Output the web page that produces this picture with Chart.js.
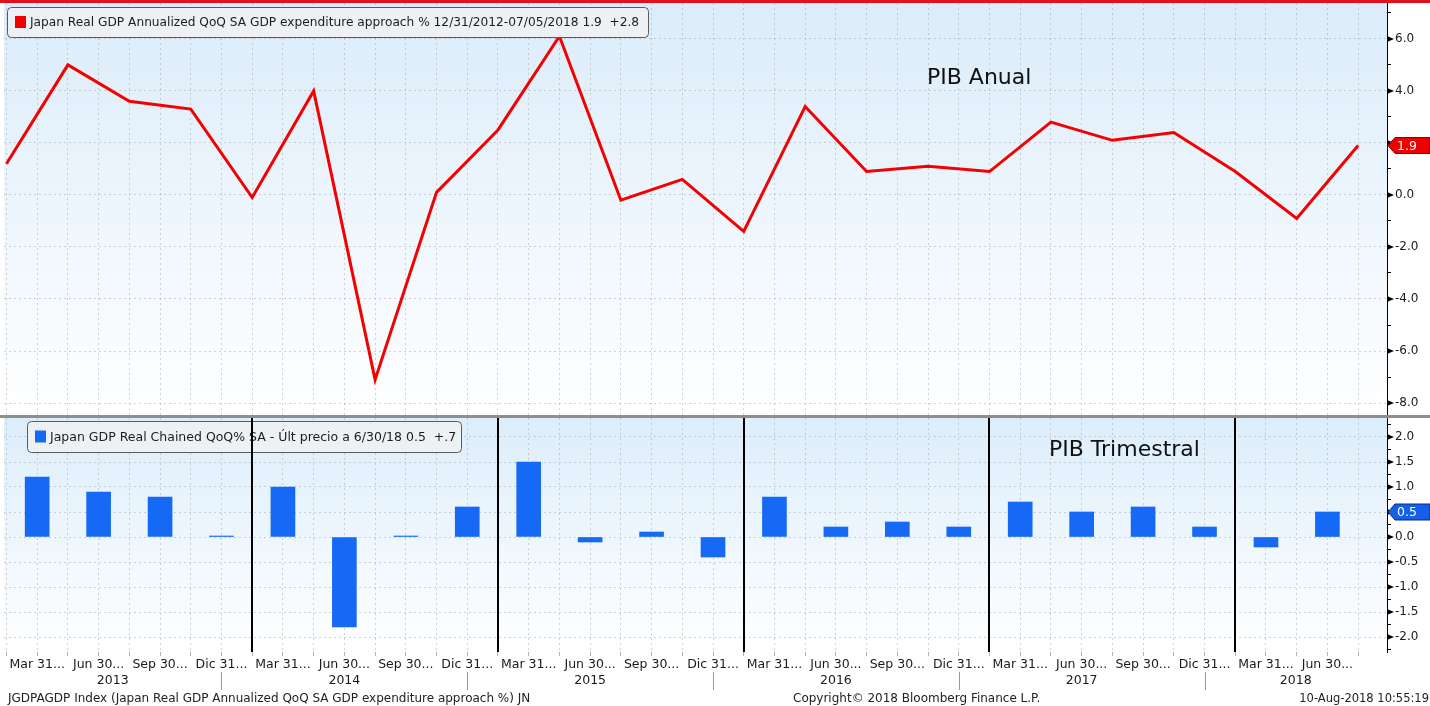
<!DOCTYPE html>
<html>
<head>
<meta charset="utf-8">
<script src="https://cdn.jsdelivr.net/npm/chart.js@4.4.1/dist/chart.umd.min.js"></script>
<style>
  body { margin: 0; width: 1430px; height: 706px; overflow: hidden; position: relative; background: #fff; font-family: "DejaVu Sans", sans-serif; }
  #wrapTop { position: absolute; left: 0; top: 0; }
  #wrapBot { position: absolute; left: 0; top: 416px; }
  #redBar { position: absolute; left: 0; top: 0; width: 1430px; height: 3px; background: #e3101c; }
  #sep { position: absolute; left: 0; top: 415px; width: 1430px; height: 3px; background: #8e8e8e; }
  .foot { position: absolute; top: 691px; font-size: 12px; color: #222; white-space: nowrap; line-height: 14px; }
</style>
</head>
<body>
<div id="wrapTop"><canvas id="topChart" width="1430" height="416"></canvas></div>
<div id="wrapBot"><canvas id="botChart" width="1430" height="276"></canvas></div>
<div id="redBar"></div>
<div id="sep"></div>
<div class="foot" style="left:8px">JGDPAGDP Index (Japan Real GDP Annualized QoQ SA GDP expenditure approach %) JN</div>
<div class="foot" style="left:793px">Copyright© 2018 Bloomberg Finance L.P.</div>
<div class="foot" style="right:1px;font-size:11.5px">10-Aug-2018 10:55:19</div>
<script>
// quarters shown on the axis (bars sit in the middle of each quarter)
const quarterLabels = [
  'Mar 31...', 'Jun 30...', 'Sep 30...', 'Dic 31...',
  'Mar 31...', 'Jun 30...', 'Sep 30...', 'Dic 31...',
  'Mar 31...', 'Jun 30...', 'Sep 30...', 'Dic 31...',
  'Mar 31...', 'Jun 30...', 'Sep 30...', 'Dic 31...',
  'Mar 31...', 'Jun 30...', 'Sep 30...', 'Dic 31...',
  'Mar 31...', 'Jun 30...'
];
const yearLabels = ['2013', '2014', '2015', '2016', '2017', '2018'];

// annualized QoQ, quarter ends Dec 2012 .. Jun 2018
const annualizedGdp = [1.2, 5.0, 3.6, 3.3, -0.1, 4.0, -7.1, 0.1, 2.5, 6.1, -0.2, 0.6,
  -1.4, 3.4, 0.9, 1.1, 0.9, 2.8, 2.1, 2.4, 0.9, -0.9, 1.9];
// plain QoQ %, Mar 2013 .. Jun 2018
const quarterlyGdp = [1.2, 0.9, 0.8, 0.02, 1.0, -1.8, 0.02, 0.6, 1.5, -0.1, 0.1, -0.4,
  0.8, 0.2, 0.3, 0.2, 0.7, 0.5, 0.6, 0.2, -0.2, 0.5];

const annualTickLabels = [-8, -6, -4, -2, 0, 2, 4, 6];
const quarterlyTickLabels = [-2, -1.5, -1, -0.5, 0, 0.5, 1, 1.5, 2];

const topLegend = 'Japan Real GDP Annualized QoQ SA GDP expenditure approach % 12/31/2012-07/05/2018 1.9  +2.8';
const botLegend = 'Japan GDP Real Chained QoQ% SA - Últ precio a 6/30/18 0.5  +.7';

Chart.defaults.font.family = '"DejaVu Sans", sans-serif';
Chart.defaults.font.size = 12;
Chart.defaults.color = '#1a1a1a';

const gridColor = 'rgba(150,150,150,0.42)';
const X_MIN = -0.04, X_MAX = 22.47;

function halfSteps(scale) {
  const t = [];
  for (let i = 0; i < annualizedGdp.length; i++) {
    t.push({ value: i });
    if (i < quarterlyGdp.length) t.push({ value: i + 0.5 });
  }
  scale.ticks = t;
}

function fitRight(s) {
  s.width = 43;
  s.paddingTop = 0;
  s.paddingBottom = 0;
}

const background = {
  id: 'background',
  beforeDraw(chart, args, opts) {
    const { ctx, chartArea: a } = chart;
    const g = ctx.createLinearGradient(0, a.top, 0, a.bottom);
    g.addColorStop(0, opts.top);
    g.addColorStop(1, '#ffffff');
    ctx.save();
    ctx.fillStyle = g;
    ctx.fillRect(a.left, a.top, a.right - a.left, a.bottom - a.top);
    ctx.restore();
  }
};

// arrow heads on major ticks + last value tag
const rightAxis = {
  id: 'rightAxis',
  afterDraw(chart, args, opts) {
    const { ctx } = chart;
    const y = chart.scales.y;
    const x0 = chart.chartArea.right;
    ctx.save();
    ctx.fillStyle = '#000';
    y.ticks.forEach(t => {
      if (!opts.major.includes(t.value)) return;
      const py = y.getPixelForValue(t.value);
      ctx.beginPath();
      ctx.moveTo(x0, py - 3);
      ctx.lineTo(x0 + 7, py);
      ctx.lineTo(x0, py + 3);
      ctx.fill();
    });
    const data = chart.data.datasets[0].data;
    const last = data[data.length - 1].y;
    const py = y.getPixelForValue(last);
    ctx.beginPath();
    ctx.moveTo(x0 + 1, py);
    ctx.lineTo(x0 + 8, py - 8);
    ctx.lineTo(1430, py - 8);
    ctx.lineTo(1430, py + 8);
    ctx.lineTo(x0 + 8, py + 8);
    ctx.closePath();
    ctx.fillStyle = opts.tag;
    ctx.fill();
    ctx.strokeStyle = opts.tagBorder;
    ctx.lineWidth = 1;
    ctx.stroke();
    ctx.fillStyle = '#fff';
    ctx.font = '12.5px "DejaVu Sans"';
    ctx.textBaseline = 'middle';
    ctx.fillText(last.toFixed(1), x0 + 10, py + 1);
    ctx.restore();
  }
};

const boxes = {
  id: 'boxes',
  afterDatasetsDraw(chart, args, opts) {
    const { ctx } = chart;
    ctx.save();
    // legend box
    const b = opts.box;
    ctx.beginPath();
    ctx.roundRect(b.x + 0.5, b.y + 0.5, b.w, b.h, 4);
    ctx.fillStyle = 'rgba(238,240,243,0.96)';
    ctx.fill();
    ctx.strokeStyle = '#5a5a5a';
    ctx.lineWidth = 1;
    ctx.stroke();
    ctx.fillStyle = opts.swatch;
    ctx.fillRect(b.x + 8, b.y + b.h / 2 - 6, 11, 12);
    ctx.fillStyle = '#1c1c1c';
    ctx.font = opts.fontSize + 'px "DejaVu Sans"';
    ctx.textBaseline = 'middle';
    ctx.fillText(opts.text, b.x + 23, b.y + b.h / 2 + 1);
    // panel title
    ctx.font = '22px "DejaVu Sans"';
    ctx.fillStyle = '#111';
    ctx.fillText(opts.title.text, opts.title.x, opts.title.y);
    ctx.restore();
  }
};

const yearMarks = {
  id: 'yearMarks',
  afterDraw(chart) {
    const { ctx, chartArea: a } = chart;
    const x = chart.scales.x;
    const seps = [];
    ctx.save();
    quarterLabels.forEach((q, i) => {
      if (!q.startsWith('Dic')) return;
      // heavy year boundary inside the panel
      const px = Math.round(x.getPixelForValue(i + 1));
      ctx.fillStyle = '#000';
      ctx.fillRect(px - 1, a.top, 2, a.bottom - a.top);
      seps.push(x.getPixelForValue(i + 0.5));
    });
    ctx.strokeStyle = '#9a9a9a';
    ctx.lineWidth = 1;
    seps.forEach(px => {
      ctx.beginPath();
      ctx.moveTo(Math.round(px) + 0.5, a.bottom + 20);
      ctx.lineTo(Math.round(px) + 0.5, a.bottom + 38);
      ctx.stroke();
    });
    const edges = [a.left, ...seps, a.right];
    ctx.fillStyle = '#1a1a1a';
    ctx.font = '12.5px "DejaVu Sans"';
    ctx.textAlign = 'center';
    ctx.textBaseline = 'middle';
    yearLabels.forEach((yr, k) => {
      ctx.fillText(yr, (edges[k] + edges[k + 1]) / 2, a.bottom + 29);
    });
    ctx.restore();
  }
};

new Chart(document.getElementById('topChart'), {
  type: 'line',
  data: {
    datasets: [{
      data: annualizedGdp.map((v, i) => ({ x: i, y: v })),
      borderColor: '#f50000',
      borderWidth: 3,
      pointRadius: 0,
      tension: 0,
      fill: false
    }]
  },
  options: {
    responsive: false,
    animation: false,
    layout: { padding: { left: 4, top: 3, right: 0, bottom: 1 } },
    plugins: {
      legend: { display: false },
      tooltip: { enabled: false },
      background: { top: '#dbecfa' },
      rightAxis: { major: annualTickLabels, tag: '#ee0000', tagBorder: '#8a0000' },
      boxes: {
        box: { x: 7, y: 7, w: 641, h: 30 },
        swatch: '#f00000',
        text: topLegend,
        fontSize: 12.2,
        title: { text: 'PIB Anual', x: 927, y: 78 }
      }
    },
    scales: {
      x: {
        type: 'linear', min: X_MIN, max: X_MAX,
        afterBuildTicks: halfSteps,
        ticks: { display: false },
        grid: { color: gridColor, drawTicks: false },
        border: { display: false, dash: [2, 3] },
        afterFit(s) { s.height = 0; }
      },
      y: {
        position: 'right', min: -8.46, max: 7.38,
        ticks: {
          stepSize: 1, includeBounds: false, padding: 4, autoSkip: false,
          callback: v => annualTickLabels.includes(v) ? v.toFixed(1) : ''
        },
        grid: {
          color: c => annualTickLabels.includes(c.tick.value) ? gridColor : 'rgba(0,0,0,0)',
          tickColor: '#000', tickLength: 4
        },
        border: { color: '#000', dash: [2, 3] },
        afterFit: fitRight
      }
    }
  },
  plugins: [background, boxes, rightAxis]
});

new Chart(document.getElementById('botChart'), {
  type: 'bar',
  data: {
    datasets: [{
      data: quarterlyGdp.map((v, i) => ({ x: i + 0.5, y: v })),
      backgroundColor: '#1669f5',
      barThickness: 24
    }]
  },
  options: {
    responsive: false,
    animation: false,
    layout: { padding: { left: 4, top: 2, right: 0, bottom: 0 } },
    plugins: {
      legend: { display: false },
      tooltip: { enabled: false },
      background: { top: '#dcedfb' },
      rightAxis: { major: quarterlyTickLabels, tag: '#1560e8', tagBorder: '#0a2f7a' },
      boxes: {
        box: { x: 27, y: 5, w: 434, h: 31 },
        swatch: '#1669f5',
        text: botLegend,
        fontSize: 12.5,
        title: { text: 'PIB Trimestral', x: 1049, y: 34 }
      }
    },
    scales: {
      x: {
        type: 'linear', min: X_MIN, max: X_MAX, offset: false,
        afterBuildTicks: halfSteps,
        ticks: {
          autoSkip: false, maxRotation: 0, minRotation: 0, padding: 1,
          font: { size: 12.5 },
          callback: v => (v % 1 === 0.5) ? quarterLabels[Math.floor(v)] : ''
        },
        grid: { color: gridColor, offset: false, tickColor: '#b5b5b5', tickLength: 4 },
        border: { display: false, dash: [2, 3] },
        afterFit(s) { s.height = 40; }
      },
      y: {
        position: 'right', min: -2.3, max: 2.38,
        ticks: {
          stepSize: 0.25, includeBounds: false, padding: 4, autoSkip: false,
          callback: v => quarterlyTickLabels.includes(v) ? v.toFixed(1) : ''
        },
        grid: {
          color: c => quarterlyTickLabels.includes(c.tick.value) ? gridColor : 'rgba(0,0,0,0)',
          tickColor: '#000', tickLength: 4
        },
        border: { color: '#000', dash: [2, 3] },
        afterFit: fitRight
      }
    }
  },
  plugins: [background, boxes, yearMarks, rightAxis]
});
</script>
</body>
</html>
